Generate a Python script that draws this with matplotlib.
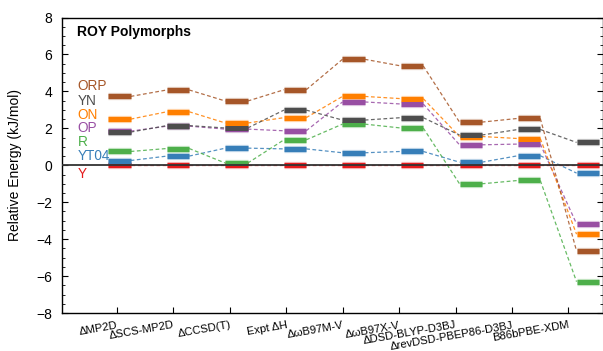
import numpy as np
import matplotlib
matplotlib.use("Agg")
import matplotlib.pyplot as plt
from matplotlib.ticker import MultipleLocator

plt.rcParams['font.family'] = ['Liberation Sans', 'DejaVu Sans']

# methods along the x axis
methods = ['\u0394MP2D', '\u0394SCS-MP2D', '\u0394CCSD(T)', 'Expt \u0394H', '\u0394\u03c9B97M-V',
           '\u0394\u03c9B97X-V', '\u0394DSD-BLYP-D3BJ', '\u0394revDSD-PBEP86-D3BJ', 'B86bPBE-XDM']

# relative energies (kJ/mol) for each polymorph, one value per method
Y    = [0.00, 0.00, 0.00, 0.00, 0.00, 0.00, 0.00, 0.00, 0.00]
YT04 = [0.26, 0.50, 0.93, 0.89, 0.68, 0.75, 0.17, 0.52, -0.42]
R    = [0.75, 0.91, 0.12, 1.38, 2.23, 2.02, -1.00, -0.82, -6.30]
OP   = [1.85, 2.12, 1.96, 1.87, 3.43, 3.32, 1.11, 1.15, -3.17]
ON   = [2.50, 2.90, 2.29, 2.58, 3.73, 3.61, 1.56, 1.45, -3.73]
YN   = [1.80, 2.15, 2.02, 2.99, 2.45, 2.58, 1.64, 1.94, 1.24]
ORP  = [3.73, 4.08, 3.48, 4.09, 5.74, 5.38, 2.34, 2.54, -4.64]

names = ['Y', 'YT04', 'R', 'OP', 'ON', 'YN', 'ORP']
series = [Y, YT04, R, OP, ON, YN, ORP]
colors = ['#e41a1c', '#377eb8', '#4daf4a', '#984ea3', '#ff7f00', '#4d4d4d', '#a65628']
# where the polymorph names sit on the left side (data y)
label_y = [-0.47, 0.52, 1.28, 2.02, 2.72, 3.48, 4.29]

fig = plt.figure(figsize=(6.03, 3.51), dpi=100)
ax = fig.add_axes([0.1028, 0.108, 0.898, 0.842])

x = np.arange(len(methods))
hw = 0.19  # half width of each level bar

for name, vals, c, ly in zip(names, series, colors, label_y):
    vals = np.array(vals)
    # dashed connectors between neighbouring levels
    for i in range(len(x) - 1):
        ax.plot([x[i] + hw, x[i + 1] - hw], [vals[i], vals[i + 1]], color=c, lw=0.9,
                dashes=(3, 2), alpha=0.85, zorder=2)
    # level bars with a soft halo
    for xi, v in zip(x, vals):
        ax.plot([xi - hw, xi + hw], [v, v], color=c, lw=5.2, alpha=0.35,
                solid_capstyle='butt', zorder=3)
        ax.plot([xi - hw, xi + hw], [v, v], color=c, lw=3.6,
                solid_capstyle='butt', zorder=4)
    ax.text(-0.72, ly, name, color=c, fontsize=9.8, va='center', ha='left')

ax.axhline(0, color='#333333', lw=1.3, zorder=5)

ax.text(-0.72, 7.2, 'ROY Polymorphs', fontsize=10, fontweight='bold', va='center', ha='left')

ax.set_xlim(-0.983, 8.27)
ax.set_ylim(-8, 8)
ax.yaxis.set_major_locator(MultipleLocator(2))
ax.yaxis.set_minor_locator(MultipleLocator(0.5))
ax.tick_params(axis='y', which='both', direction='in', left=True, right=True,
               labelsize=10, pad=7)
ax.tick_params(axis='y', which='major', length=4)
ax.tick_params(axis='y', which='minor', length=2)

# tick marks sit a little off the bar centres
tick_pos = -0.048 + 0.965 * x
ax.set_xticks(tick_pos)
ax.set_xticklabels(methods, rotation=10, ha='right', va='top', rotation_mode='anchor', fontsize=8.1)
ax.tick_params(axis='x', direction='in', length=4, top=False, pad=5)

ax.set_ylabel('Relative Energy (kJ/mol)', fontsize=10, labelpad=10)
for s in ax.spines.values():
    s.set_linewidth(1.0)

plt.savefig('out.png', dpi=100)
